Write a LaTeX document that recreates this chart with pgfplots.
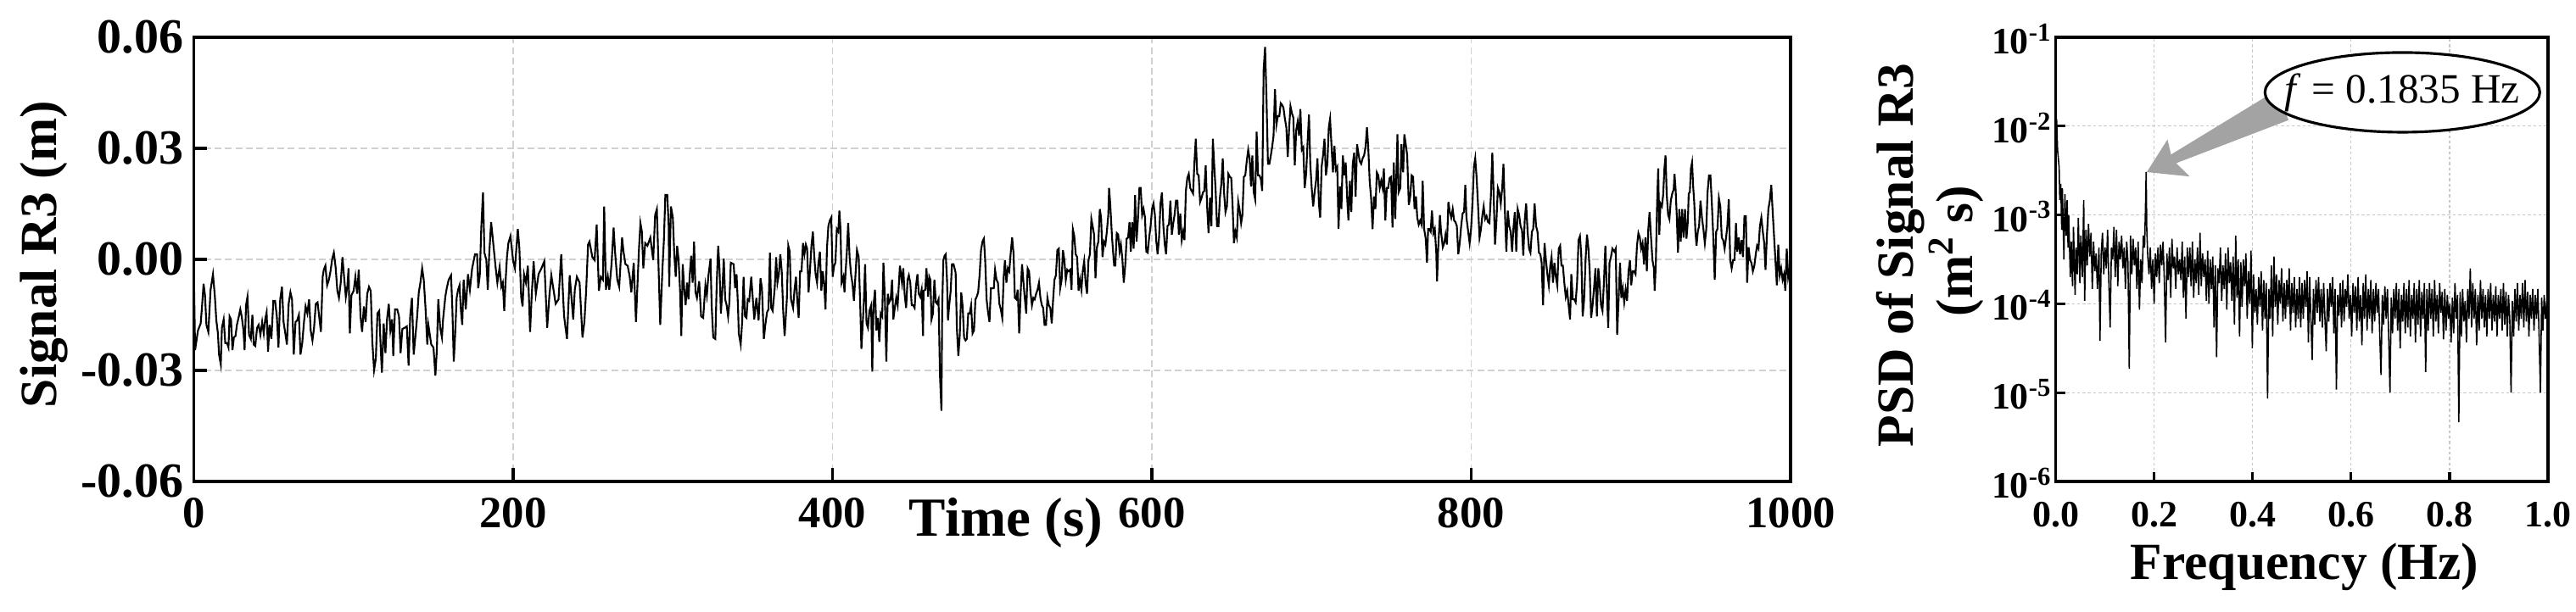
\documentclass[border=0pt]{standalone}
\usepackage{fontspec}
\setmainfont{Liberation Serif}
\usepackage{pgfplots}
\pgfplotsset{compat=1.18}
\usepackage{pgfplotstable}

\pgfplotstableread{
t v
0 -0.0025
0.8 -0.0245
2.6 -0.0192
4.3 -0.0173
5.2 -0.0124
6.1 -0.0066
7.0 -0.0097
7.9 -0.0177
9.1 -0.0196
10.5 -0.0082
12.0 -0.0040
13.2 -0.0101
14.1 -0.0165
15.1 -0.0200
15.8 -0.0257
16.9 -0.0284
17.6 -0.0185
18.7 -0.0162
19.7 -0.0226
20.8 -0.0226
21.7 -0.0238
22.4 -0.0154
23.3 -0.0162
24.2 -0.0245
25.1 -0.0211
26.1 -0.0207
27.0 -0.0177
28.2 -0.0154
29.1 -0.0135
30.0 -0.0154
31.1 -0.0192
31.8 -0.0245
32.7 -0.0124
33.6 -0.0101
34.6 -0.0204
35.7 -0.0215
36.7 -0.0150
37.5 -0.0230
38.5 -0.0234
39.6 -0.0185
40.6 -0.0177
41.7 -0.0204
42.8 -0.0169
43.8 -0.0200
44.7 -0.0162
45.6 -0.0143
46.5 -0.0249
47.4 -0.0177
48.6 -0.0215
49.8 -0.0112
50.9 -0.0112
52.0 -0.0154
53.0 -0.0238
54.1 -0.0108
55.2 -0.0074
56.2 -0.0169
57.3 -0.0200
58.3 -0.0230
59.4 -0.0120
60.5 -0.0089
61.5 -0.0108
62.6 -0.0257
63.7 -0.0169
64.7 -0.0165
65.8 -0.0150
66.8 -0.0257
67.9 -0.0226
69.0 -0.0169
70.0 -0.0127
71.1 -0.0146
72.2 -0.0108
73.2 -0.0192
74.3 -0.0219
75.3 -0.0185
76.4 -0.0120
77.5 -0.0116
78.5 -0.0154
79.6 -0.0196
80.7 -0.0047
81.4 -0.0028
82.4 -0.0017
83.5 -0.0070
84.6 -0.0055
85.6 -0.0032
86.7 0.0002
87.7 0.0018
88.8 -0.0021
89.9 -0.0085
90.9 -0.0104
92.0 -0.0063
93.1 0.0006
94.1 -0.0047
95.2 -0.0101
96.2 -0.0070
96.9 -0.0024
97.7 -0.0200
98.7 -0.0097
100.1 -0.0085
101.2 -0.0047
102.3 -0.0093
103.3 -0.0028
104.4 -0.0154
105.4 -0.0196
106.5 -0.0127
107.6 -0.0169
108.6 -0.0093
109.7 -0.0074
110.8 -0.0085
111.8 -0.0223
112.9 -0.0299
114.0 -0.0268
115.0 -0.0146
116.1 -0.0139
117.1 -0.0245
117.8 -0.0306
118.9 -0.0173
120.0 -0.0253
121.0 -0.0162
122.1 -0.0120
123.1 -0.0192
124.2 -0.0162
124.9 -0.0261
126.0 -0.0135
127.4 -0.0135
128.5 -0.0154
129.5 -0.0253
130.6 -0.0188
132.0 -0.0185
133.4 -0.0181
134.5 -0.0287
135.5 -0.0154
136.6 -0.0104
137.7 -0.0257
138.7 -0.0211
139.8 -0.0158
140.9 -0.0089
141.9 -0.0063
143.0 -0.0024
144.0 -0.0055
145.1 -0.0131
146.2 -0.0230
146.9 -0.0177
148.7 -0.0230
150.1 -0.0238
151.3 -0.0314
152.2 -0.0245
153.1 -0.0108
154.3 -0.0185
155.4 -0.0211
156.1 -0.0162
157.5 -0.0101
158.4 -0.0078
159.6 -0.0055
161.1 -0.0043
161.9 -0.0131
162.8 -0.0276
163.7 -0.0200
164.6 -0.0104
165.5 -0.0082
166.4 -0.0070
167.3 -0.0139
168.1 -0.0177
169.0 -0.0055
170.3 -0.0135
171.7 -0.0040
172.9 -0.0082
174.3 -0.0024
176.1 0.0014
177.4 0.0014
178.1 -0.0078
179.1 -0.0043
180.0 0.0082
181.1 0.0181
182.0 0.0018
183.2 -0.0002
184.1 -0.0082
185.0 0.0014
186.2 0.0101
187.6 0.0040
189.0 -0.0021
190.1 -0.0063
191.5 -0.0021
192.6 -0.0074
193.5 -0.0063
194.4 -0.0139
195.2 -0.0063
196.1 0.0006
197.0 0.0044
198.3 0.0063
200.0 -0.0005
201.1 -0.0024
202.9 0.0082
203.9 0.0029
205.0 -0.0101
205.9 -0.0127
206.8 -0.0040
208.0 -0.0063
209.2 -0.0017
210.6 -0.0196
211.5 -0.0108
212.8 -0.0005
214.2 -0.0093
215.9 -0.0040
217.7 -0.0024
219.5 -0.0005
221.3 -0.0185
222.7 -0.0097
223.9 -0.0043
226.6 -0.0120
228.4 -0.0108
230.1 0.0014
231.2 -0.0093
231.9 -0.0154
233.7 -0.0215
235.4 -0.0043
237.6 -0.0162
238.6 -0.0082
239.9 -0.0047
241.6 -0.0063
243.4 -0.0211
244.6 -0.0169
245.7 -0.0085
246.9 0.0040
247.8 0.0048
249.6 0.0006
251.0 -0.0002
252.3 0.0094
253.7 -0.0085
254.9 -0.0047
256.2 -0.0055
257.0 0.0143
258.1 -0.0082
259.3 -0.0047
260.2 -0.0082
261.6 -0.0013
262.9 0.0086
263.8 0.0021
265.2 -0.0055
266.4 -0.0074
268.2 0.0059
269.1 0.0021
270.3 -0.0013
271.7 -0.0017
273.0 -0.0047
274.0 -0.0089
275.5 -0.0009
276.9 -0.0169
277.9 -0.0063
278.8 0.0029
279.7 0.0098
280.6 0.0075
281.5 -0.0024
282.7 0.0044
284.1 0.0037
285.9 0.0059
287.7 -0.0002
288.9 0.0120
290.0 0.0136
291.2 -0.0043
292.1 -0.0177
293.5 -0.0024
294.4 0.0052
295.3 0.0174
296.5 0.0174
297.4 0.0090
297.7 -0.0074
298.8 0.0143
300.0 0.0113
300.9 0.0014
301.8 -0.0047
302.7 0.0037
303.6 -0.0002
304.5 -0.0082
305.3 -0.0207
306.2 -0.0013
307.1 -0.0078
308.0 -0.0124
308.9 -0.0063
309.8 -0.0108
310.6 -0.0040
311.5 0.0010
312.4 -0.0063
313.3 0.0048
314.2 -0.0089
315.1 -0.0104
316.5 -0.0059
317.7 -0.0154
319.0 -0.0158
320.4 -0.0070
321.3 -0.0097
322.2 -0.0047
323.6 0.0002
324.3 -0.0124
325.3 -0.0211
326.6 -0.0215
327.5 -0.0063
328.4 0.0037
329.2 -0.0024
330.1 -0.0146
331.0 -0.0082
331.9 0.0002
332.8 -0.0108
333.7 -0.0124
334.6 -0.0154
335.4 -0.0116
336.3 -0.0009
338.1 -0.0013
339.0 -0.0078
339.9 -0.0040
340.8 -0.0127
341.3 -0.0200
342.5 -0.0230
343.4 -0.0169
344.3 -0.0047
345.2 -0.0154
346.1 -0.0158
346.9 -0.0108
347.8 -0.0112
349.1 -0.0047
350.1 -0.0108
351.0 -0.0162
352.3 -0.0104
353.7 -0.0165
354.9 -0.0051
355.8 -0.0078
357.0 -0.0215
357.9 -0.0177
359.0 -0.0143
359.9 -0.0135
360.8 0.0018
361.6 -0.0131
362.5 -0.0139
363.8 -0.0078
364.7 0.0006
365.5 -0.0063
366.4 -0.0040
367.3 0.0014
368.2 -0.0032
369.1 -0.0139
370.0 -0.0207
371.4 -0.0108
372.3 0.0037
373.2 0.0021
374.0 -0.0108
375.3 -0.0131
376.2 -0.0082
377.1 -0.0047
377.9 -0.0108
378.8 -0.0158
379.7 -0.0032
380.6 -0.0032
381.5 0.0044
382.4 0.0014
383.3 0.0040
384.1 0.0029
385.0 -0.0089
385.9 -0.0028
386.8 0.0037
387.7 0.0075
388.6 0.0006
389.4 -0.0040
390.3 -0.0063
391.2 -0.0009
392.1 0.0021
393.0 -0.0085
393.9 -0.0032
394.8 -0.0070
395.6 -0.0135
396.5 0.0029
397.4 0.0090
398.3 0.0105
399.2 0.0113
400.1 -0.0047
401.0 -0.0017
401.8 -0.0009
402.7 0.0082
403.6 0.0075
404.3 0.0132
405.0 0.0082
405.7 -0.0063
406.8 -0.0047
407.5 -0.0089
408.2 -0.0032
408.9 0.0014
409.8 0.0098
410.7 0.0006
411.6 -0.0040
412.5 -0.0066
413.4 -0.0112
414.2 -0.0055
415.3 0.0025
416.4 0.0006
417.4 -0.0131
418.1 -0.0242
419.6 -0.0116
420.4 -0.0013
421.3 -0.0173
422.2 -0.0185
423.1 -0.0139
424.2 -0.0124
424.9 -0.0303
425.7 -0.0124
426.6 -0.0082
427.5 -0.0192
428.4 -0.0158
429.3 -0.0223
430.2 -0.0146
431.1 -0.0154
431.9 -0.0009
432.8 -0.0108
433.7 -0.0276
434.6 -0.0093
435.5 -0.0116
436.4 -0.0108
437.3 -0.0055
438.1 -0.0162
439.0 -0.0131
439.9 -0.0104
440.8 -0.0124
442.2 -0.0017
443.5 -0.0063
444.3 -0.0024
445.2 -0.0097
446.1 -0.0131
447.0 -0.0055
447.8 -0.0043
448.7 -0.0063
449.6 -0.0124
450.5 -0.0124
451.4 -0.0131
452.3 -0.0070
453.2 -0.0040
454.0 -0.0093
454.9 -0.0101
455.8 -0.0082
456.7 -0.0207
457.0 -0.0085
458.1 -0.0082
458.8 -0.0024
459.9 -0.0101
460.6 -0.0047
461.3 -0.0055
462.0 -0.0162
462.9 -0.0146
463.8 -0.0055
464.7 -0.0116
465.5 -0.0120
466.4 -0.0108
467.3 -0.0314
468.2 -0.0409
468.7 -0.0124
469.4 -0.0002
470.2 0.0010
470.9 0.0014
471.7 -0.0055
472.3 -0.0165
473.0 -0.0127
474.0 -0.0085
474.8 -0.0013
475.8 -0.0013
477.1 -0.0036
477.9 -0.0188
478.8 -0.0261
479.7 -0.0204
480.6 -0.0089
481.5 -0.0127
482.4 -0.0211
483.3 -0.0219
484.1 -0.0215
485.0 -0.0146
485.9 -0.0146
486.8 -0.0124
487.7 -0.0200
488.6 -0.0192
489.5 -0.0108
490.3 -0.0101
491.2 -0.0089
492.1 -0.0043
493.0 0.0025
493.9 0.0048
494.8 0.0056
495.6 -0.0002
496.5 -0.0108
497.4 -0.0143
498.3 -0.0169
499.2 -0.0078
500.1 -0.0078
501.0 -0.0078
501.8 -0.0028
502.7 -0.0055
503.6 -0.0063
504.5 -0.0120
505.4 -0.0135
506.3 -0.0158
507.2 -0.0047
508.0 -0.0002
508.9 -0.0063
509.8 -0.0024
510.7 -0.0032
511.6 0.0018
512.5 0.0059
513.4 0.0014
514.2 -0.0104
515.1 -0.0108
516.0 -0.0082
516.9 -0.0200
517.8 -0.0093
518.7 -0.0013
519.6 -0.0063
520.4 -0.0104
521.3 -0.0146
522.2 -0.0024
523.1 -0.0032
524.0 -0.0089
524.9 -0.0124
525.8 -0.0104
526.6 -0.0108
527.5 -0.0093
528.4 -0.0082
529.3 -0.0063
530.2 -0.0104
531.1 -0.0124
531.9 -0.0131
532.8 -0.0177
533.7 -0.0177
534.6 -0.0104
535.5 -0.0124
536.4 -0.0131
537.3 -0.0173
538.1 -0.0112
539.0 -0.0055
539.9 -0.0043
540.8 0.0025
541.7 0.0029
542.6 -0.0078
543.5 -0.0055
544.3 0.0025
545.2 -0.0002
546.1 -0.0055
547.0 -0.0028
547.9 -0.0032
548.8 -0.0028
549.7 -0.0082
550.5 0.0082
551.4 0.0063
552.3 0.0014
553.2 0.0006
554.1 -0.0085
555.0 -0.0055
555.9 -0.0082
556.7 -0.0032
557.6 -0.0005
558.5 -0.0063
559.4 -0.0093
560.3 -0.0002
561.2 0.0014
562.1 0.0109
562.9 0.0090
563.8 0.0067
564.7 -0.0051
565.6 0.0033
566.5 0.0048
567.4 0.0136
568.2 0.0113
569.1 0.0006
570.0 0.0048
570.9 0.0040
571.8 0.0075
572.7 0.0120
573.2 0.0193
573.9 0.0151
575.0 0.0063
575.7 0.0021
576.4 -0.0017
577.1 -0.0017
578.0 0.0071
578.9 0.0067
579.8 0.0021
580.6 0.0040
581.5 0.0002
582.4 -0.0063
583.3 -0.0017
584.2 0.0056
585.1 0.0059
586.0 0.0101
586.8 0.0021
587.7 0.0101
588.6 0.0029
589.5 0.0174
590.4 0.0048
591.3 0.0109
592.2 0.0193
593.0 0.0193
593.9 0.0120
594.8 0.0136
595.7 0.0113
596.5 0.0021
597.4 0.0018
598.3 0.0059
599.2 0.0090
600.1 0.0136
601.0 0.0151
601.9 0.0120
602.7 0.0052
603.6 0.0014
604.5 0.0059
605.4 0.0151
606.3 0.0181
607.2 0.0090
608.1 0.0040
608.9 0.0014
609.8 0.0090
610.7 0.0094
611.6 0.0159
612.5 0.0067
613.4 0.0098
614.2 0.0120
615.1 0.0159
616.0 0.0159
616.9 0.0067
617.8 0.0124
618.7 0.0052
619.6 0.0075
620.4 0.0052
621.3 0.0185
622.2 0.0220
623.1 0.0231
624.0 0.0193
624.9 0.0185
625.8 0.0178
626.6 0.0258
627.5 0.0326
628.4 0.0231
629.3 0.0227
630.2 0.0155
631.1 0.0166
632.0 0.0181
632.8 0.0185
633.7 0.0254
634.6 0.0143
635.5 0.0071
636.4 0.0166
637.3 0.0090
638.2 0.0326
639.0 0.0258
639.9 0.0189
640.8 0.0090
641.7 0.0090
642.6 0.0166
643.5 0.0204
644.4 0.0273
645.2 0.0181
646.1 0.0128
647.0 0.0143
647.9 0.0231
648.8 0.0223
649.7 0.0220
650.5 0.0151
651.4 0.0044
652.3 0.0075
653.2 0.0059
654.1 0.0155
655.0 0.0132
655.9 0.0098
656.7 0.0120
657.6 0.0223
658.5 0.0227
659.4 0.0265
660.3 0.0296
661.2 0.0273
662.1 0.0197
662.9 0.0281
663.8 0.0181
664.7 0.0162
665.6 0.0345
666.5 0.0227
667.4 0.0227
668.3 0.0216
669.1 0.0185
670.0 0.0513
670.9 0.0574
671.8 0.0433
672.7 0.0258
673.6 0.0258
674.5 0.0281
675.3 0.0303
676.2 0.0334
677.1 0.0460
678.0 0.0364
678.9 0.0387
679.8 0.0387
680.7 0.0422
681.5 0.0418
682.4 0.0410
683.3 0.0380
684.2 0.0357
685.1 0.0277
686.0 0.0357
686.8 0.0414
687.7 0.0395
688.6 0.0383
689.5 0.0254
690.4 0.0349
691.3 0.0372
692.2 0.0334
693.0 0.0406
693.9 0.0296
694.8 0.0303
695.7 0.0193
696.6 0.0231
697.5 0.0315
698.4 0.0391
699.2 0.0258
700.1 0.0193
701.0 0.0143
701.9 0.0181
702.8 0.0212
703.7 0.0273
704.6 0.0151
705.4 0.0113
706.3 0.0250
707.2 0.0281
708.1 0.0326
709.0 0.0227
709.9 0.0258
710.8 0.0357
711.6 0.0380
712.5 0.0307
713.4 0.0235
714.3 0.0307
715.2 0.0242
716.1 0.0250
716.9 0.0082
717.8 0.0197
718.7 0.0136
719.6 0.0281
720.5 0.0227
721.4 0.0262
722.3 0.0166
723.1 0.0105
724.0 0.0212
724.9 0.0128
725.8 0.0258
726.7 0.0288
727.6 0.0170
728.5 0.0311
729.3 0.0288
730.2 0.0265
731.1 0.0258
732.0 0.0273
732.9 0.0281
733.8 0.0303
734.7 0.0357
735.5 0.0303
736.4 0.0212
737.3 0.0166
738.2 0.0082
739.1 0.0170
740.0 0.0136
740.9 0.0235
741.8 0.0227
742.7 0.0193
743.6 0.0212
744.5 0.0193
745.3 0.0246
746.2 0.0105
747.1 0.0193
748.0 0.0193
748.9 0.0220
749.8 0.0223
750.7 0.0086
751.5 0.0262
752.4 0.0109
753.3 0.0258
753.8 0.0338
754.5 0.0181
755.6 0.0193
756.3 0.0311
757.4 0.0235
758.1 0.0338
759.0 0.0311
759.9 0.0281
760.9 0.0147
761.8 0.0170
762.7 0.0227
763.6 0.0223
764.5 0.0136
765.4 0.0170
766.2 0.0113
767.1 0.0094
768.0 0.0105
768.9 0.0094
769.6 0.0212
770.5 0.0082
771.5 0.0056
772.3 -0.0009
773.0 0.0082
773.7 0.0082
774.6 0.0075
775.4 0.0132
776.3 0.0071
777.2 0.0082
778.1 0.0018
778.6 -0.0059
779.3 0.0029
780.4 0.0120
781.1 0.0075
782.2 0.0033
783.1 0.0044
783.9 0.0067
784.8 0.0040
785.7 0.0155
786.6 0.0128
787.5 0.0113
788.4 0.0136
789.3 0.0105
790.1 0.0101
791.0 0.0090
791.9 0.0014
792.8 0.0044
793.7 0.0090
794.6 0.0124
795.5 0.0128
796.3 0.0201
797.0 0.0113
798.1 0.0075
799.0 0.0044
799.9 0.0082
800.8 0.0151
801.7 0.0250
802.5 0.0273
803.4 0.0220
804.3 0.0143
805.2 0.0059
806.1 0.0082
807.0 0.0120
807.8 0.0143
808.7 0.0109
809.6 0.0117
810.5 0.0101
811.4 0.0098
812.3 0.0170
813.2 0.0288
814.0 0.0181
814.9 0.0040
815.8 0.0105
816.7 0.0193
817.6 0.0181
818.5 0.0151
819.4 0.0193
820.2 0.0258
821.1 0.0128
822.0 0.0021
822.9 0.0132
823.8 0.0090
824.7 0.0075
825.6 0.0021
826.4 0.0082
827.3 0.0128
828.2 0.0021
829.1 0.0136
830.0 0.0120
830.9 0.0090
831.8 0.0079
832.6 0.0010
833.5 0.0105
834.4 0.0151
835.3 0.0075
836.2 0.0029
837.1 0.0018
838.0 0.0075
838.8 0.0082
839.7 0.0151
840.6 0.0090
841.5 0.0075
842.4 0.0018
843.3 0.0014
844.1 -0.0009
845.0 -0.0124
845.9 0.0044
846.8 -0.0002
847.7 -0.0040
848.6 -0.0070
849.5 -0.0017
850.3 0.0006
851.2 -0.0063
852.1 -0.0009
853.0 -0.0047
853.9 -0.0070
854.8 0.0029
855.7 0.0037
856.5 -0.0017
857.4 -0.0017
858.3 -0.0063
859.2 -0.0101
860.1 -0.0085
861.0 -0.0124
861.9 -0.0162
862.7 -0.0040
863.6 -0.0108
864.5 -0.0108
865.4 -0.0116
866.3 -0.0063
867.2 0.0052
868.1 0.0063
868.9 0.0014
869.8 -0.0154
870.7 -0.0108
871.6 -0.0002
872.5 0.0067
873.4 0.0029
874.2 -0.0032
875.1 -0.0158
876.0 -0.0124
876.9 -0.0078
877.8 -0.0024
878.7 -0.0154
879.6 -0.0024
880.4 -0.0063
881.3 -0.0124
882.2 -0.0139
883.1 -0.0063
884.0 0.0037
884.9 -0.0078
885.8 -0.0185
886.6 -0.0009
887.5 0.0006
888.4 0.0029
889.7 0.0021
890.5 0.0029
891.4 -0.0204
892.3 -0.0108
893.2 -0.0009
894.0 -0.0104
894.9 -0.0078
895.8 -0.0116
896.7 -0.0082
897.6 -0.0112
898.5 -0.0032
899.4 -0.0002
900.2 -0.0070
901.1 -0.0032
902.0 -0.0032
902.9 -0.0040
903.8 0.0037
904.7 0.0071
905.6 0.0059
906.4 0.0029
907.3 0.0044
908.2 -0.0013
909.1 0.0059
910.0 -0.0032
910.9 0.0082
911.7 0.0128
912.6 0.0059
913.5 -0.0002
914.4 -0.0024
914.9 -0.0085
915.6 -0.0013
916.4 0.0151
917.1 0.0246
917.8 0.0067
918.5 0.0151
919.4 0.0143
920.2 0.0174
921.0 0.0246
921.7 0.0281
922.4 0.0178
923.3 0.0120
924.1 0.0109
925.0 0.0159
925.9 0.0178
926.8 0.0189
927.3 0.0231
928.0 0.0189
928.7 0.0120
929.5 0.0018
930.3 0.0136
931.2 0.0048
932.1 0.0136
933.0 0.0059
933.9 0.0136
934.8 0.0056
935.7 0.0105
936.2 0.0178
936.9 0.0181
937.6 0.0246
938.3 0.0262
939.0 0.0197
939.7 0.0151
940.4 0.0075
941.1 0.0037
941.9 0.0075
942.7 0.0090
943.6 0.0159
944.5 0.0113
945.4 0.0082
946.3 0.0044
947.2 0.0082
948.0 0.0181
948.9 0.0227
949.8 0.0227
950.7 0.0151
951.6 0.0059
952.5 -0.0055
953.4 0.0075
954.2 0.0082
955.1 0.0166
956.0 0.0143
956.9 0.0059
957.8 0.0052
958.7 0.0029
959.6 0.0059
960.4 0.0090
961.3 0.0162
962.2 -0.0002
963.1 -0.0024
964.0 -0.0002
964.9 -0.0002
965.8 0.0098
966.6 0.0021
967.5 0.0059
968.4 0.0014
969.3 0.0052
970.2 0.0006
971.1 0.0117
972.0 0.0117
972.8 -0.0063
973.7 0.0033
974.6 -0.0002
975.5 -0.0009
976.4 -0.0032
977.3 -0.0017
978.2 0.0014
979.0 0.0037
979.9 0.0029
980.8 0.0090
981.7 0.0113
982.6 0.0075
983.5 0.0044
984.3 -0.0028
985.2 0.0067
986.1 0.0136
987.0 0.0159
987.9 0.0201
988.8 0.0128
989.7 0.0059
990.5 -0.0002
991.4 -0.0070
992.3 0.0040
993.2 -0.0043
994.1 -0.0024
995.0 -0.0055
995.9 -0.0040
996.7 -0.0085
997.6 0.0029
998.5 -0.0047
999.4 -0.0024
}\signaldata

\pgfplotstableread{
f p
0.0019 1.21e-2
0.0039 5.41e-3
0.0071 3.42e-3
0.0084 1.47e-3
0.0104 2.24e-3
0.0123 6.81e-4
0.0136 2.0e-3
0.0168 3.16e-4
0.0188 1.71e-3
0.0214 5.85e-4
0.0233 1.47e-3
0.0252 4.30e-4
0.0265 1.0e-3
0.0298 2.0e-4
0.0317 5.01e-4
0.0343 1.58e-4
0.0362 7.36e-4
0.0395 1.26e-4
0.0414 4.30e-4
0.0440 2.15e-4
0.0460 9.26e-4
0.0492 1.71e-4
0.0511 5.85e-4
0.0544 2.0e-4
0.0570 1.47e-3
0.0589 1.08e-4
0.0615 6.81e-4
0.0641 2.71e-4
0.0667 7.94e-4
0.0693 3.41e-4
0.0718 6.31e-4
0.0744 1.47e-4
0.0770 5.01e-4
0.0796 2.33e-4
0.0822 3.69e-4
0.0848 1.47e-4
0.0880 4.30e-4
0.0900 3.83e-5
0.0926 3.69e-4
0.0951 6.31e-4
0.0977 2.15e-4
0.1003 4.30e-4
0.1029 2.51e-4
0.1055 6.81e-4
0.1081 1.71e-4
0.1107 5.41e-5
0.1133 4.30e-4
0.1159 3.16e-4
0.1184 7.36e-4
0.1210 2.0e-4
0.1236 6.81e-4
0.1262 1.58e-4
0.1288 5.01e-4
0.1314 3.16e-4
0.1340 5.85e-4
0.1366 2.51e-4
0.1392 4.30e-4
0.1417 1.47e-4
0.1443 5.01e-4
0.1469 2.93e-4
0.1495 1.85e-5
0.1521 5.85e-4
0.1547 2.15e-4
0.1573 5.41e-4
0.1599 2.71e-4
0.1625 4.30e-4
0.1650 1.47e-4
0.1676 5.01e-4
0.1702 8.58e-5
0.1728 3.16e-4
0.1754 1.71e-4
0.1780 5.85e-4
0.1806 4.30e-4
0.1825 1.26e-3
0.1838 3.04e-3
0.1851 6.81e-4
0.1871 3.41e-4
0.1896 2.15e-4
0.1922 4.30e-4
0.1948 1.47e-4
0.1974 3.16e-4
0.2000 1.0e-4
0.2026 3.69e-4
0.2052 2.0e-4
0.2078 4.30e-4
0.2104 1.71e-4
0.2129 4.64e-4
0.2155 2.71e-4
0.2181 5.01e-4
0.2207 1.85e-4
0.2233 3.69e-5
0.2259 3.69e-4
0.2285 1.85e-4
0.2311 4.30e-4
0.2337 1.17e-4
0.2362 5.41e-4
0.2388 2.51e-4
0.2414 3.41e-4
0.2440 1.47e-4
0.2466 4.30e-4
0.2492 2.15e-4
0.2518 3.16e-4
0.2544 1.85e-4
0.2570 5.01e-4
0.2595 1.17e-4
0.2621 3.41e-4
0.2647 6.81e-5
0.2673 4.30e-4
0.2699 2.0e-4
0.2725 4.30e-4
0.2751 1.58e-4
0.2777 5.01e-4
0.2803 1.17e-4
0.2828 3.16e-4
0.2854 1.71e-4
0.2880 4.30e-4
0.2906 1.26e-4
0.2932 6.31e-4
0.2958 1.58e-4
0.2984 3.69e-4
0.3010 2.0e-4
0.3036 3.16e-4
0.3061 1.08e-4
0.3087 3.98e-4
0.3113 1.0e-4
0.3139 3.16e-4
0.3165 1.47e-4
0.3191 3.41e-4
0.3217 5.41e-5
0.3243 2.71e-4
0.3269 2.51e-5
0.3294 2.51e-4
0.3320 1.71e-4
0.3346 4.30e-4
0.3372 1.08e-4
0.3398 2.71e-4
0.3424 1.47e-4
0.3450 3.69e-4
0.3476 8.58e-5
0.3502 4.30e-4
0.3528 1.71e-4
0.3553 2.93e-4
0.3579 1.08e-4
0.3605 3.41e-4
0.3631 5.85e-5
0.3657 5.85e-4
0.3683 1.17e-4
0.3709 3.16e-4
0.3735 4.30e-5
0.3761 2.93e-4
0.3786 9.26e-5
0.3812 3.16e-4
0.3838 1.58e-4
0.3864 3.69e-4
0.3890 6.81e-5
0.3916 2.33e-4
0.3942 1.0e-4
0.3968 3.98e-4
0.3994 3.16e-5
0.4019 2.15e-4
0.4045 7.94e-5
0.4071 1.47e-4
0.4097 5.85e-5
0.4123 2.0e-4
0.4149 9.26e-5
0.4175 2.33e-4
0.4201 5.01e-5
0.4227 1.85e-4
0.4252 6.81e-5
0.4278 1.71e-4
0.4304 8.58e-6
0.4330 1.47e-4
0.4356 6.81e-5
0.4382 2.71e-4
0.4408 4.30e-5
0.4434 3.41e-4
0.4460 9.26e-5
0.4485 2.15e-4
0.4511 5.85e-5
0.4537 1.85e-4
0.4563 1.0e-4
0.4589 2.51e-4
0.4615 6.31e-5
0.4641 1.71e-4
0.4667 6.81e-5
0.4693 1.85e-4
0.4718 9.26e-5
0.4744 2.51e-4
0.4770 5.01e-5
0.4796 1.71e-4
0.4822 7.94e-5
0.4848 2.0e-4
0.4874 5.41e-5
0.4900 1.47e-4
0.4926 6.81e-5
0.4951 2.0e-4
0.4977 5.41e-5
0.5003 1.71e-4
0.5029 6.81e-5
0.5055 1.85e-4
0.5081 9.26e-5
0.5107 2.33e-4
0.5133 3.69e-5
0.5159 2.0e-4
0.5184 6.81e-5
0.5210 2.33e-5
0.5236 1.47e-4
0.5262 5.85e-5
0.5288 1.85e-4
0.5314 7.94e-5
0.5340 2.0e-4
0.5366 6.31e-5
0.5392 1.47e-4
0.5417 5.41e-5
0.5443 1.71e-4
0.5469 6.81e-5
0.5495 2.93e-5
0.5521 1.47e-4
0.5547 6.31e-5
0.5573 1.71e-4
0.5599 9.26e-5
0.5625 2.0e-4
0.5650 4.64e-5
0.5676 1.47e-4
0.5702 1.08e-5
0.5728 1.26e-4
0.5754 7.36e-5
0.5780 1.71e-4
0.5806 5.41e-5
0.5832 1.85e-4
0.5858 6.31e-5
0.5883 1.47e-4
0.5909 9.26e-5
0.5935 2.15e-4
0.5961 6.81e-5
0.5987 1.26e-4
0.6013 4.30e-5
0.6039 1.71e-4
0.6065 7.94e-5
0.6091 1.58e-4
0.6117 5.01e-5
0.6142 2.0e-4
0.6168 6.31e-5
0.6194 1.26e-4
0.6220 3.41e-5
0.6246 1.71e-4
0.6272 6.81e-5
0.6298 2.15e-4
0.6324 5.01e-5
0.6350 1.47e-4
0.6375 6.81e-5
0.6401 1.85e-4
0.6427 4.64e-5
0.6453 1.47e-4
0.6479 6.31e-5
0.6505 1.71e-4
0.6531 7.94e-5
0.6557 1.47e-4
0.6583 4.30e-5
0.6608 1.58e-5
0.6634 1.26e-4
0.6660 5.85e-5
0.6686 1.58e-4
0.6712 6.81e-5
0.6738 1.47e-4
0.6764 4.30e-5
0.6790 1.0e-5
0.6816 1.17e-4
0.6841 4.64e-5
0.6867 1.47e-4
0.6893 6.81e-5
0.6919 1.71e-4
0.6945 5.01e-5
0.6971 1.47e-4
0.6997 3.16e-5
0.7023 1.26e-4
0.7049 6.31e-5
0.7074 1.71e-4
0.7100 4.64e-5
0.7126 1.47e-4
0.7152 5.41e-5
0.7178 1.85e-4
0.7204 4.30e-5
0.7230 1.26e-4
0.7256 6.81e-5
0.7282 1.71e-4
0.7307 3.69e-5
0.7333 1.47e-4
0.7359 5.85e-5
0.7385 1.85e-4
0.7411 4.30e-5
0.7437 1.36e-4
0.7463 6.81e-5
0.7489 1.71e-4
0.7515 1.71e-5
0.7540 1.47e-4
0.7566 5.01e-5
0.7592 1.71e-4
0.7618 6.81e-5
0.7644 1.47e-4
0.7670 4.30e-5
0.7696 1.85e-4
0.7722 6.31e-5
0.7748 1.26e-4
0.7773 4.64e-5
0.7799 1.71e-4
0.7825 7.94e-5
0.7851 1.36e-4
0.7877 3.98e-5
0.7903 1.47e-4
0.7929 5.01e-5
0.7955 1.26e-4
0.7981 6.81e-5
0.8006 1.0e-4
0.8032 3.69e-5
0.8058 1.17e-4
0.8084 4.64e-5
0.8110 1.71e-4
0.8136 6.81e-5
0.8162 1.26e-4
0.8188 4.64e-6
0.8214 1.36e-4
0.8240 4.30e-5
0.8265 1.47e-4
0.8291 6.31e-5
0.8317 1.08e-4
0.8343 3.69e-5
0.8369 1.47e-4
0.8395 6.81e-5
0.8421 2.51e-4
0.8447 5.41e-5
0.8472 1.71e-4
0.8498 6.81e-5
0.8524 1.47e-4
0.8550 3.41e-5
0.8576 1.26e-4
0.8602 5.01e-5
0.8628 1.85e-4
0.8654 6.81e-5
0.8680 1.47e-4
0.8706 5.41e-5
0.8731 1.26e-4
0.8757 4.30e-5
0.8783 1.47e-4
0.8809 6.81e-5
0.8835 1.71e-4
0.8861 5.01e-5
0.8887 1.26e-4
0.8913 6.31e-5
0.8939 1.58e-4
0.8964 4.30e-5
0.8990 1.26e-4
0.9016 6.81e-5
0.9042 1.47e-4
0.9068 5.01e-5
0.9094 1.71e-4
0.9120 5.85e-5
0.9146 1.36e-4
0.9172 4.30e-5
0.9197 1.26e-4
0.9223 6.81e-5
0.9249 1.0e-5
0.9275 1.08e-4
0.9301 4.30e-5
0.9327 1.47e-4
0.9353 6.31e-5
0.9379 1.71e-4
0.9405 5.01e-5
0.9430 1.26e-4
0.9456 6.81e-5
0.9482 1.71e-4
0.9508 5.41e-5
0.9534 1.85e-4
0.9560 6.31e-5
0.9586 1.36e-4
0.9612 4.30e-5
0.9638 1.26e-4
0.9663 6.81e-5
0.9689 1.47e-4
0.9715 5.01e-5
0.9741 1.26e-4
0.9767 6.81e-5
0.9793 1.47e-4
0.9819 4.30e-5
0.9845 1.0e-5
0.9871 1.17e-4
0.9896 5.01e-5
0.9922 1.26e-4
0.9948 6.81e-5
0.9974 1.08e-4
}\psddata

\begin{document}
\begin{tikzpicture}[x=1cm,y=1cm]
\path[use as bounding box] (0,0) rectangle (30.37,-7.22);

% ---------------- left: time series ----------------
\begin{axis}[
  scale only axis, width=18.825cm, height=5.24cm,
  at={(2.285cm,-5.68cm)}, anchor=south west,
  xmin=0, xmax=1000, ymin=-0.06, ymax=0.06,
  scaled x ticks=false, scaled y ticks=false,
  xtick={0,200,400,600,800,1000},
  xticklabels={0,200,400,600,800,1000},
  ytick={-0.06,-0.03,0,0.03,0.06},
  yticklabels={-0.06,-0.03,0.00,0.03,0.06},
  tick align=inside, xtick pos=left, ytick pos=left,
  major tick length=0.16cm,
  tick style={line width=1.1pt, black},
  axis line style={line width=1.1pt},
  xmajorgrids, ymajorgrids,
  major grid style={color=black!18, line width=0.5pt, dash pattern=on 2.3pt off 1.2pt},
  xticklabel style={font=\fontsize{15}{15}\selectfont\bfseries},
  yticklabel style={font=\fontsize{16.5}{16.5}\selectfont\bfseries},
  xticklabel shift=2pt,
  clip=true,
]
\addplot[black, line width=0.6pt, mark=none] table[x=t, y=v] {\signaldata};
\end{axis}

% left labels
\node[rotate=90, font=\fontsize{17.5}{17.5}\selectfont\bfseries, anchor=base]
  at (0.66,-3.00) {Signal R3 (m)};
\node[font=\fontsize{18.5}{18.5}\selectfont\bfseries, anchor=base]
  at (11.86,-6.32) {Time (s)};

% ---------------- right: PSD ----------------
\begin{axis}[
  scale only axis, width=5.805cm, height=5.24cm,
  at={(24.235cm,-5.68cm)}, anchor=south west,
  xmin=0, xmax=1, ymode=log, ymin=1e-6, ymax=1e-1,
  yminorticks=false,
  xtick={0,0.2,0.4,0.6,0.8,1.0},
  xticklabels={0.0,0.2,0.4,0.6,0.8,1.0},
  ytick={1e-6,1e-5,1e-4,1e-3,1e-2,1e-1},
  yticklabels={10\textsuperscript{-6},10\textsuperscript{-5},10\textsuperscript{-4},10\textsuperscript{-3},10\textsuperscript{-2},10\textsuperscript{-1}},
  tick align=inside, xtick pos=left, ytick pos=left,
  major tick length=0.11cm,
  tick style={line width=0.9pt, black},
  axis line style={line width=0.9pt},
  xmajorgrids, ymajorgrids,
  major grid style={color=black!22, line width=0.35pt, dash pattern=on 1pt off 0.8pt},
  ticklabel style={font=\fontsize{12.5}{12.5}\selectfont\bfseries},
  xticklabel style={inner sep=0pt},
  xticklabel shift=6.7pt,
  yticklabel style={inner xsep=1pt, inner ysep=0pt, yshift=-0.02cm},
  clip=true,
]
\addplot[black, line width=0.45pt, mark=none] table[x=f, y=p] {\psddata};
% annotation arrow
\fill[black!36] (axis cs:0.1851,3.04e-3) -- (axis cs:0.2272,7.08e-3) -- (axis cs:0.2343,4.79e-3)
  -- (axis cs:0.4473,2.51e-2) -- (axis cs:0.4731,1.17e-2) -- (axis cs:0.2447,3.83e-3)
  -- (axis cs:0.2725,2.71e-3) -- cycle;
\draw[line width=0.9pt, fill=white] (axis cs:0.7042,2.40e-2) ellipse [x radius=1.62cm, y radius=0.47cm];
\node[font=\fontsize{14}{14}\selectfont] at (axis cs:0.7042,2.40e-2) {\textit{f} = 0.1835 Hz};
\end{axis}

% right labels
\node[rotate=90, font=\fontsize{17.5}{17.5}\selectfont\bfseries, anchor=base]
  at (22.55,-3.01) {PSD of Signal R3};
\node[rotate=90, font=\fontsize{17.5}{17.5}\selectfont\bfseries, anchor=base]
  at (23.25,-2.96) {(m\textsuperscript{2} s)};
\node[font=\fontsize{17.5}{17.5}\selectfont\bfseries, anchor=base]
  at (27.17,-6.83) {Frequency (Hz)};
\end{tikzpicture}
\end{document}
